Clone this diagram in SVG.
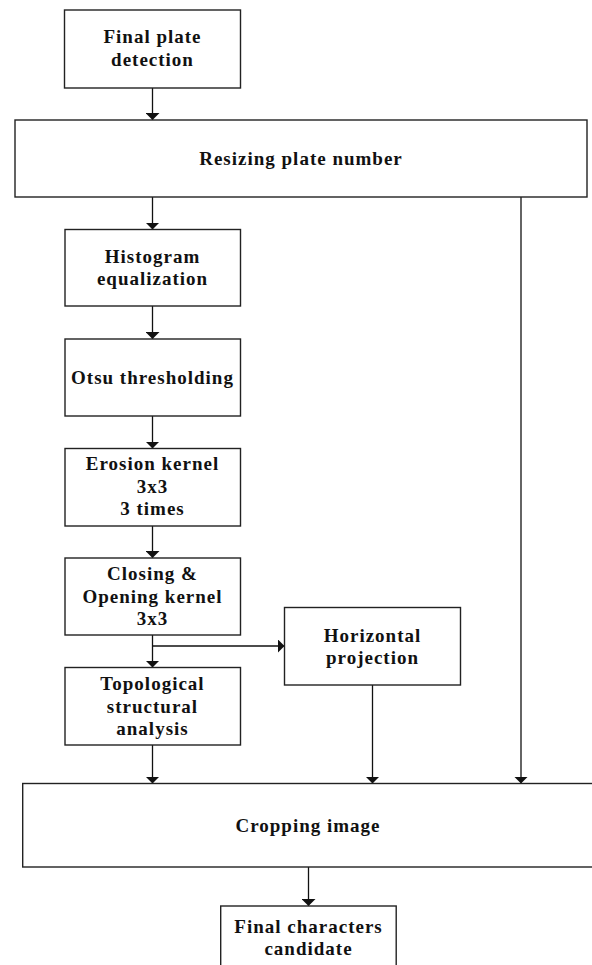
<svg xmlns="http://www.w3.org/2000/svg" width="592" height="965" viewBox="0 0 592 965">
<style>
.box{fill:#fff;stroke:#222;stroke-width:1.4}
.lbl{font-family:"Liberation Serif","Times New Roman",serif;font-weight:bold;font-size:19px;letter-spacing:1px;text-anchor:middle;fill:#111}
.con{stroke:#111;stroke-width:1.3;fill:none}
</style>
<defs>
<marker id="arr" viewBox="0 0 7 14" refX="7" refY="7" markerWidth="7" markerHeight="14" markerUnits="userSpaceOnUse" orient="auto">
<path d="M0,0 L7,7 L0,14 z" fill="#111"/>
</marker>
</defs>
<rect width="592" height="965" fill="#fff"/>
<g id="connectors">
<line class="con" x1="152.5" y1="88" x2="152.5" y2="120" marker-end="url(#arr)"/>
<line class="con" x1="152.5" y1="197" x2="152.5" y2="229.5" marker-end="url(#arr)"/>
<line class="con" x1="152.5" y1="306" x2="152.5" y2="339" marker-end="url(#arr)"/>
<line class="con" x1="152.5" y1="416" x2="152.5" y2="448.5" marker-end="url(#arr)"/>
<line class="con" x1="152.5" y1="526" x2="152.5" y2="558" marker-end="url(#arr)"/>
<line class="con" x1="152.5" y1="635" x2="152.5" y2="667.5" marker-end="url(#arr)"/>
<line class="con" x1="152.5" y1="646" x2="284.5" y2="646" marker-end="url(#arr)"/>
<line class="con" x1="152.5" y1="745" x2="152.5" y2="783.5" marker-end="url(#arr)"/>
<line class="con" x1="372.5" y1="685" x2="372.5" y2="783.5" marker-end="url(#arr)"/>
<line class="con" x1="521" y1="197" x2="521" y2="783.5" marker-end="url(#arr)"/>
<line class="con" x1="308.5" y1="867" x2="308.5" y2="906" marker-end="url(#arr)"/>
</g>
<g id="final-plate-detection">
<rect class="box" x="64.5" y="10" width="176" height="78"/>
<text class="lbl" x="152.5" y="43">Final plate</text>
<text class="lbl" x="152.5" y="65.5">detection</text>
</g>
<g id="resizing-plate-number">
<rect class="box" x="15" y="120" width="572" height="77"/>
<text class="lbl" x="301" y="165">Resizing plate number</text>
</g>
<g id="histogram-equalization">
<rect class="box" x="65" y="229.5" width="175.5" height="76.5"/>
<text class="lbl" x="152.5" y="262.5">Histogram</text>
<text class="lbl" x="152.5" y="285">equalization</text>
</g>
<g id="otsu-thresholding">
<rect class="box" x="65" y="339" width="175.5" height="77"/>
<text class="lbl" x="152.5" y="384">Otsu thresholding</text>
</g>
<g id="erosion-kernel">
<rect class="box" x="65" y="448.5" width="175.5" height="77.5"/>
<text class="lbl" x="152.5" y="470">Erosion kernel</text>
<text class="lbl" x="152.5" y="492.5">3x3</text>
<text class="lbl" x="152.5" y="515">3 times</text>
</g>
<g id="closing-opening">
<rect class="box" x="65" y="558" width="175.5" height="77"/>
<text class="lbl" x="152.5" y="580">Closing &amp;</text>
<text class="lbl" x="152.5" y="603">Opening kernel</text>
<text class="lbl" x="152.5" y="625">3x3</text>
</g>
<g id="horizontal-projection">
<rect class="box" x="284.5" y="607.5" width="176" height="77.5"/>
<text class="lbl" x="372.5" y="641.5">Horizontal</text>
<text class="lbl" x="372.5" y="664">projection</text>
</g>
<g id="topological-analysis">
<rect class="box" x="65" y="667.5" width="175.5" height="77.5"/>
<text class="lbl" x="152.5" y="690">Topological</text>
<text class="lbl" x="152.5" y="712.5">structural</text>
<text class="lbl" x="152.5" y="735">analysis</text>
</g>
<g id="cropping-image">
<rect class="box" x="22.7" y="783.5" width="580" height="83.5"/>
<text class="lbl" x="308" y="832">Cropping image</text>
</g>
<g id="final-characters-candidate">
<rect class="box" x="220.7" y="906" width="175.5" height="80"/>
<text class="lbl" x="308.5" y="932.5">Final characters</text>
<text class="lbl" x="308.5" y="955">candidate</text>
</g>
</svg>
